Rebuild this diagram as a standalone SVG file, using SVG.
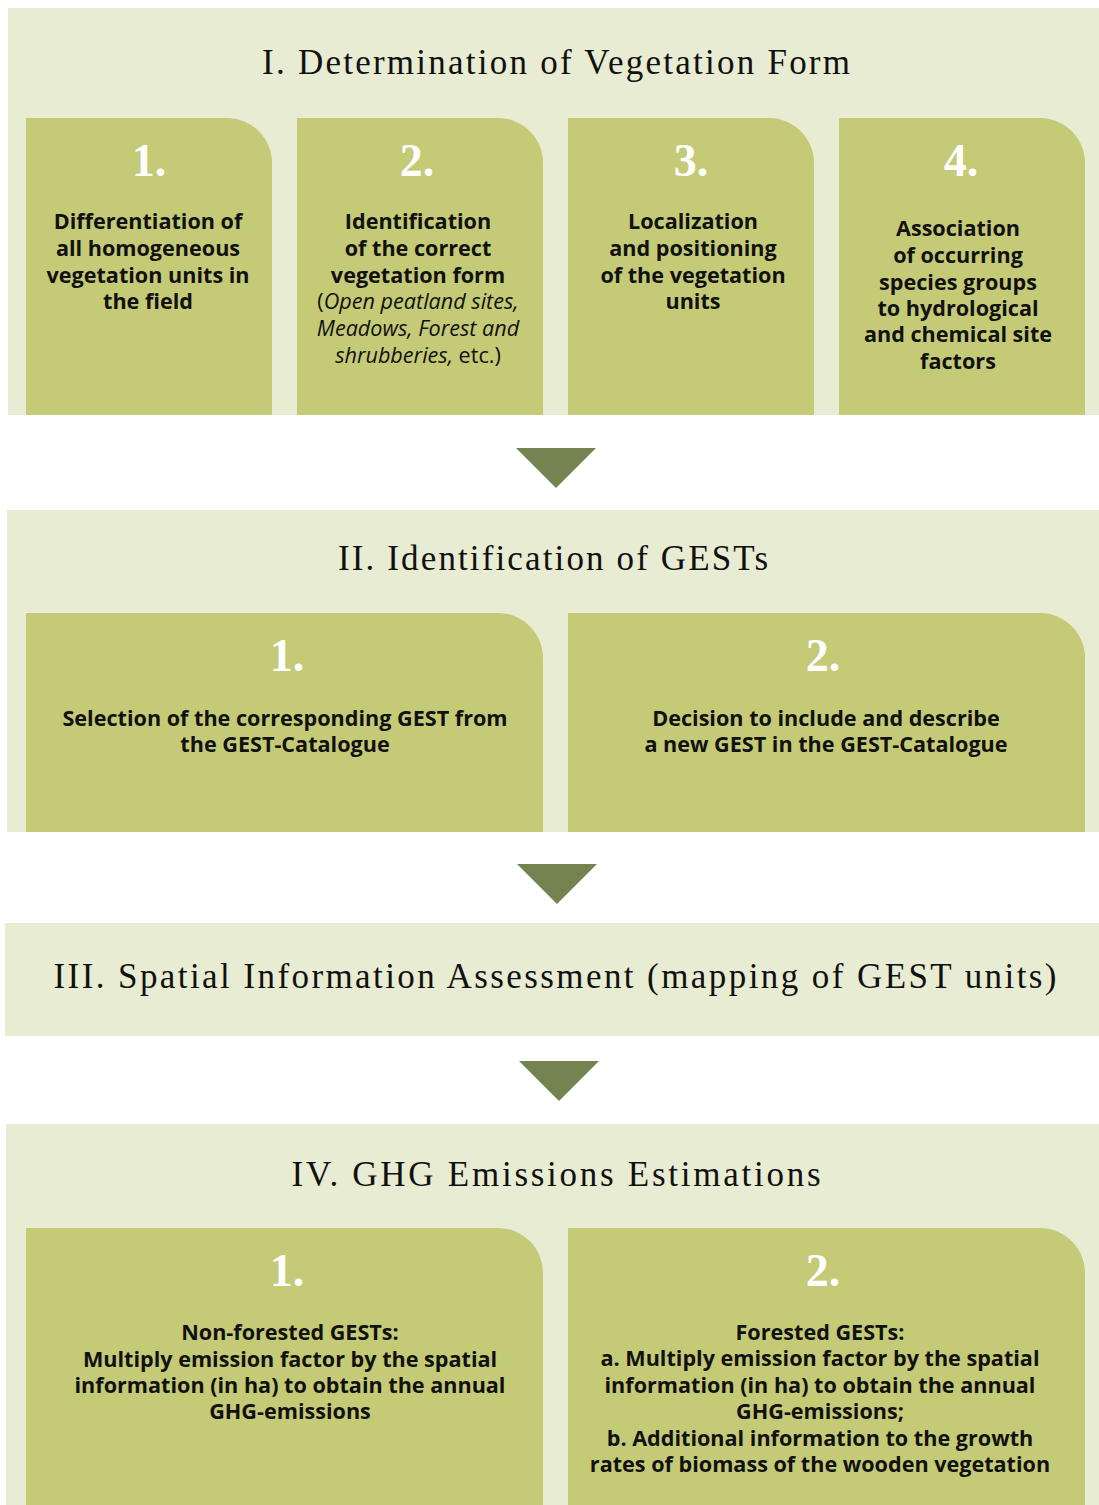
<svg xmlns="http://www.w3.org/2000/svg" width="1099" height="1505" viewBox="0 0 1099 1505">
<defs>
<style>
.sec{fill:#E8ECD2}
.box{fill:#C4CA76}
.arr{fill:#738450}
.title{font-family:"Liberation Serif","Times New Roman",serif;font-size:35px;fill:#111;text-anchor:middle}
.num{font-family:"Liberation Serif","Times New Roman",serif;font-weight:bold;font-size:46px;fill:#fff;text-anchor:middle}
.t{font-family:"Open Sans","Noto Sans",sans-serif;font-weight:bold;font-size:21.6px;fill:#111;text-anchor:middle}
.r{font-weight:normal}
.i{font-style:italic;font-weight:normal}
</style>
</defs>
<rect width="1099" height="1505" fill="#fff"/>

<g id="section1">
<rect class="sec" x="8" y="8" width="1091" height="407"/>
<text class="title" x="556" y="74" textLength="588" lengthAdjust="spacing">I. Determination of Vegetation Form</text>
</g>
<g id="node1-1">
<path class="box" d="M26,118 H227 A45,45 0 0 1 272,163 V415 H26 Z"/>
<text class="num" x="149" y="176">1.</text>
<text class="t" x="148"><tspan x="148" y="229">Differentiation of</tspan><tspan x="148" y="256">all homogeneous</tspan><tspan x="148" y="283">vegetation units in</tspan><tspan x="148" y="309">the field</tspan></text>
</g>
<g id="node1-2">
<path class="box" d="M297,118 H498 A45,45 0 0 1 543,163 V415 H297 Z"/>
<text class="num" x="417" y="176">2.</text>
<text class="t" x="418"><tspan x="418" y="229">Identification</tspan><tspan x="418" y="256">of the correct</tspan><tspan x="418" y="283">vegetation form</tspan><tspan x="418" y="309"><tspan class="r">(</tspan><tspan class="i">Open peatland sites,</tspan></tspan><tspan class="i" x="418" y="336">Meadows, Forest and</tspan><tspan x="418" y="363"><tspan class="i">shrubberies,</tspan><tspan class="r"> etc.)</tspan></tspan></text>
</g>
<g id="node1-3">
<path class="box" d="M568,118 H769 A45,45 0 0 1 814,163 V415 H568 Z"/>
<text class="num" x="691" y="176">3.</text>
<text class="t" x="693"><tspan x="693" y="229">Localization</tspan><tspan x="693" y="256">and positioning</tspan><tspan x="693" y="283">of the vegetation</tspan><tspan x="693" y="309">units</tspan></text>
</g>
<g id="node1-4">
<path class="box" d="M839,118 H1040 A45,45 0 0 1 1085,163 V415 H839 Z"/>
<text class="num" x="961" y="176">4.</text>
<text class="t" x="958"><tspan x="958" y="236">Association</tspan><tspan x="958" y="263">of occurring</tspan><tspan x="958" y="290">species groups</tspan><tspan x="958" y="316">to hydrological</tspan><tspan x="958" y="342">and chemical site</tspan><tspan x="958" y="369">factors</tspan></text>
</g>

<g id="section2">
<rect class="sec" x="7" y="510" width="1092" height="322"/>
<text class="title" x="553" y="570" textLength="430" lengthAdjust="spacing">II. Identification of GESTs</text>
</g>
<g id="node2-1">
<path class="box" d="M26,613 H498 A45,45 0 0 1 543,658 V832 H26 Z"/>
<text class="num" x="287" y="671">1.</text>
<text class="t" x="285"><tspan x="285" y="726">Selection of the corresponding GEST from</tspan><tspan x="285" y="752">the GEST-Catalogue</tspan></text>
</g>
<g id="node2-2">
<path class="box" d="M568,613 H1040 A45,45 0 0 1 1085,658 V832 H568 Z"/>
<text class="num" x="823" y="671">2.</text>
<text class="t" x="826"><tspan x="826" y="726">Decision to include and describe</tspan><tspan x="826" y="752">a new GEST in the GEST-Catalogue</tspan></text>
</g>

<g id="section3">
<rect class="sec" x="5" y="923" width="1094" height="113"/>
<text class="title" x="555" y="988" textLength="1003" lengthAdjust="spacing">III. Spatial Information Assessment (mapping of GEST units)</text>
</g>

<g id="section4">
<rect class="sec" x="6" y="1124" width="1093" height="381"/>
<text class="title" x="556" y="1186" textLength="529" lengthAdjust="spacing">IV. GHG Emissions Estimations</text>
</g>
<g id="node4-1">
<path class="box" d="M26,1228 H498 A45,45 0 0 1 543,1273 V1505 H26 Z"/>
<text class="num" x="287" y="1286">1.</text>
<text class="t" x="290"><tspan x="290" y="1340">Non-forested GESTs:</tspan><tspan x="290" y="1367">Multiply emission factor by the spatial</tspan><tspan x="290" y="1393">information (in ha) to obtain the annual</tspan><tspan x="290" y="1419">GHG-emissions</tspan></text>
</g>
<g id="node4-2">
<path class="box" d="M568,1228 H1040 A45,45 0 0 1 1085,1273 V1505 H568 Z"/>
<text class="num" x="823" y="1286">2.</text>
<text class="t" x="820"><tspan x="820" y="1340">Forested GESTs:</tspan><tspan x="820" y="1366">a. Multiply emission factor by the spatial</tspan><tspan x="820" y="1393">information (in ha) to obtain the annual</tspan><tspan x="820" y="1419">GHG-emissions;</tspan><tspan x="820" y="1446">b. Additional information to the growth</tspan><tspan x="820" y="1472">rates of biomass of the wooden vegetation</tspan></text>
</g>

<g id="connectors">
<polygon class="arr" points="516,448 596,448 556,488"/>
<polygon class="arr" points="517,864 597,864 557,904"/>
<polygon class="arr" points="519,1061 599,1061 559,1101"/>
</g>
</svg>
